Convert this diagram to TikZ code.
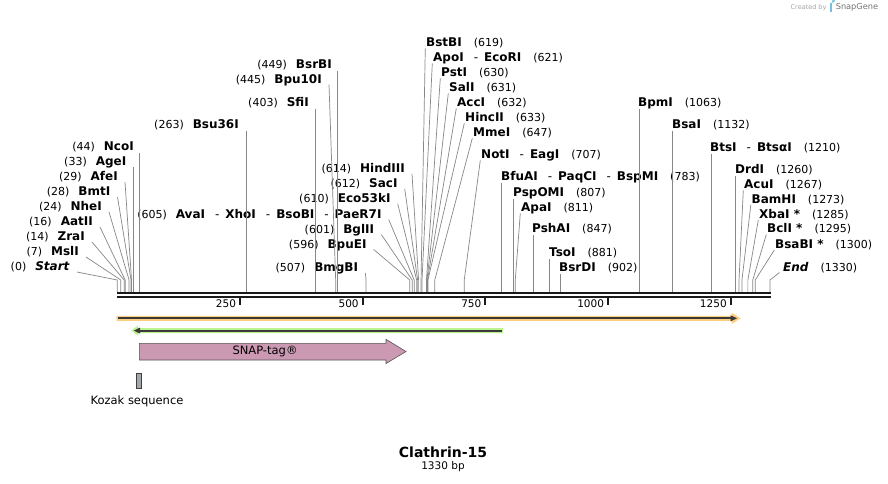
\documentclass[tikz,border=0pt]{standalone}
\usepackage{fontspec}
\setmainfont{DejaVu Sans}
\definecolor{sitegray}{RGB}{135,135,135}
\definecolor{bbcol}{RGB}{26,26,26}
\definecolor{orfcol}{RGB}{253,206,125}
\definecolor{grncol}{RGB}{188,243,142}
\definecolor{darkln}{RGB}{58,58,58}
\definecolor{snapcol}{RGB}{204,153,179}
\definecolor{snapedge}{RGB}{85,85,85}
\definecolor{kozcol}{RGB}{164,168,172}
\definecolor{logoblue}{RGB}{120,190,225}
\newcommand\sitename[1]{{\fontsize{12}{13}\selectfont\bfseries #1}}
\newcommand\dashsep{\hspace{10pt}{\mdseries -}\hspace{6pt}}
\newcommand\siteL[5]{%
  \node[lab,anchor=base east] (#1) at (#3,#4+4) {(#2)\hspace{9pt}\sitename{#5}};
  \coordinate (#1s) at ({117.3+0.4907*#2},291.8);
  \coordinate (#1b) at ({117.3+0.4907*#2},280);
}
\newcommand\siteR[5]{%
  \node[lab,anchor=base west] (#1) at (#3,#4+4) {\sitename{#5}\hspace{12pt}(#2)};
  \coordinate (#1s) at ({117.3+0.4907*#2},291.8);
  \coordinate (#1b) at ({117.3+0.4907*#2},280);
}
\newcommand\diagL[1]{\draw[siteline] ([shift={(7,1.5)}]#1.base east) -- (#1b) -- (#1s);}
\newcommand\diagR[1]{\draw[siteline] ([shift={(-0.7,2)}]#1.base west) -- (#1b) -- (#1s);}
\newcommand\vertS[1]{\draw[siteline] (#1s |- #1.south) -- (#1s);}
\begin{document}
\begin{tikzpicture}[x=1pt,y=-1pt,
  lab/.style={inner sep=0pt,text height=8.5pt,text depth=2.5pt,font=\fontsize{11}{13}\selectfont},
  siteline/.style={draw=sitegray,line width=0.7pt},
  ticklab/.style={inner sep=0pt,font=\fontsize{10.5}{12}\selectfont}]
\fill[white] (0,0) rectangle (888,483);
\useasboundingbox (0,0) rectangle (888,483);

% ---- left-side labels
\siteL{Start}{0}{70}{266.5}{\textit{Start}}
\siteL{MslI}{7}{79}{251.5}{MslI}
\siteL{ZraI}{14}{85}{236.5}{ZraI}
\siteL{AatII}{16}{93}{221.5}{AatII}
\siteL{NheI}{24}{102}{206.5}{NheI}
\siteL{BmtI}{28}{110.5}{191.5}{BmtI}
\siteL{AfeI}{29}{118}{176.5}{AfeI}
\siteL{AgeI}{33}{126.5}{161.5}{AgeI}
\siteL{NcoI}{44}{134}{146.5}{NcoI}
\siteL{BsuI}{263}{239}{124}{Bsu36I}
\siteL{SfiI}{403}{309}{102}{SfiI}
\siteL{BpuI}{445}{322}{79}{Bpu10I}
\siteL{BsrBI}{449}{332}{64}{BsrBI}
\siteL{HindIII}{614}{405}{168.3}{HindIII}
\siteL{SacI}{612}{397.7}{183.3}{SacI}
\siteL{EcoI}{610}{390.7}{198.3}{Eco53kI}
\siteL{AvaI}{605}{381.7}{214}{AvaI\dashsep XhoI\dashsep BsoBI\dashsep PaeR7I}
\siteL{BglII}{601}{374.3}{229}{BglII}
\siteL{BpuEI}{596}{366.7}{244}{BpuEI}
\siteL{BmgBI}{507}{358.3}{267.3}{BmgBI}

% ---- right-side labels
\siteR{BstBI}{619}{426}{42.3}{BstBI}
\siteR{ApoI}{621}{433}{57.3}{ApoI\dashsep EcoRI}
\siteR{PstI}{630}{441}{72.3}{PstI}
\siteR{SalI}{631}{449}{87.3}{SalI}
\siteR{AccI}{632}{457}{102.3}{AccI}
\siteR{HincII}{633}{465}{117.3}{HincII}
\siteR{MmeI}{647}{473}{132.3}{MmeI}
\siteR{NotI}{707}{481}{154.3}{NotI\dashsep EagI}
\siteR{BfuAI}{783}{501}{176.7}{BfuAI\dashsep PaqCI\dashsep BspMI}
\siteR{PspOMI}{807}{513}{192.3}{PspOMI}
\siteR{ApaI}{811}{521}{207.3}{ApaI}
\siteR{PshAI}{847}{532}{228.5}{PshAI}
\siteR{TsoI}{881}{549}{252.3}{TsoI}
\siteR{BsrDI}{902}{559}{267.3}{BsrDI}
\siteR{BpmI}{1063}{638}{102}{BpmI}
\siteR{BsaI}{1132}{672}{124}{BsaI}
\siteR{BtsI}{1210}{710}{147}{BtsI\dashsep BtsαI}
\siteR{DrdI}{1260}{735}{169}{DrdI}
\siteR{AcuI}{1267}{744}{184.3}{AcuI}
\siteR{BamHI}{1273}{751.5}{199}{BamHI}
\siteR{XbaI}{1285}{759}{214}{XbaI *}
\siteR{BclI}{1295}{767}{228.5}{BclI *}
\siteR{BsaBI}{1300}{775}{244}{BsaBI *}
\siteR{End}{1330}{783}{267}{\textit{End}}

% ---- connectors
\diagL{Start}\diagL{MslI}\diagL{ZraI}\diagL{AatII}\diagL{NheI}\diagL{BmtI}\diagL{AfeI}\diagL{AgeI}
\vertS{NcoI}\vertS{BsuI}\vertS{SfiI}\vertS{BsrBI}
\diagL{BpuI}\diagL{HindIII}\diagL{SacI}\diagL{EcoI}\diagL{AvaI}\diagL{BglII}\diagL{BpuEI}\diagL{BmgBI}
\diagR{BstBI}\diagR{ApoI}\diagR{PstI}\diagR{SalI}\diagR{AccI}\diagR{HincII}\diagR{MmeI}\diagR{NotI}\diagR{ApaI}
\diagR{AcuI}\diagR{BamHI}\diagR{XbaI}\diagR{BclI}\diagR{BsaBI}
\vertS{BfuAI}\vertS{PspOMI}\vertS{PshAI}\vertS{TsoI}\vertS{BsrDI}\vertS{BpmI}\vertS{BsaI}\vertS{BtsI}\vertS{DrdI}
\draw[siteline] ([shift={(-3.5,1.5)}]End.base west) -- (Endb) -- (Ends);

% ---- backbone
\draw[bbcol,line width=1.8pt] (117,293.2) -- (770.8,293.2);
\draw[bbcol,line width=1.8pt] (117,296.8) -- (770.8,296.8);
\foreach \p in {250,500,750,1000,1250}{
  \draw[bbcol,line width=2pt] ({117.3+0.4907*\p},296.8) -- ++(0,8.2);
  \node[ticklab,anchor=east] (t\p) at ({117.3+0.4907*\p-3.8},303.8) {\p};
}

% ---- features
\fill[orfcol] (116.7,315.8) -- (731.5,315.8) -- (731.5,312.6) -- (740.5,318.3) -- (731.5,324) -- (731.5,320.8) -- (116.7,320.8) -- cycle;
\draw[darkln,line width=1.8pt] (118.3,318.3) -- (732,318.3);
\fill[darkln] (730.5,315.2) -- (737,318.3) -- (730.5,321.4) -- cycle;

\fill[grncol] (503,328) -- (138,328) -- (138,325.4) -- (131.3,330.6) -- (138,335.8) -- (138,333.2) -- (503,333.2) -- cycle;
\draw[darkln,line width=1.8pt] (136,330.6) -- (501.5,330.6);
\fill[darkln] (140,327.6) -- (133.8,330.6) -- (140,333.6) -- cycle;

\draw[snapedge,fill=snapcol,line width=0.6pt] (139.3,343.3) -- (386,343.3) -- (386,339.3) -- (406,351.5) -- (386,363.5) -- (386,360) -- (139.3,360) -- cycle;
\node[font=\fontsize{11.5}{13}\selectfont,inner sep=0pt] (snap) at (265,351.5) {SNAP-tag®};

\draw[black!75,fill=kozcol,line width=0.6pt] (136.3,372.8) rectangle (141.7,388.2);
\node[font=\fontsize{11.5}{13}\selectfont,inner sep=0pt] (kozak) at (137,401.7) {Kozak sequence};

% ---- title
\node[font=\fontsize{14}{16}\selectfont\bfseries,inner sep=0pt] (title) at (443,452.3) {Clathrin-15};
\node[font=\fontsize{10.5}{12}\selectfont,inner sep=0pt] (len) at (443,466.7) {1330 bp};

% ---- credit
\node[font=\fontsize{6.5}{8}\selectfont,text=black!35,anchor=west,inner sep=0pt] (cby) at (790.5,7.5) {Created by};
\fill[logoblue] (829.6,2.6) rectangle (831.6,12.4);
\fill[logoblue] (831.6,2.6) -- (832.6,2.6) arc (90:-90:2.3) -- (831.6,7.2) -- cycle;
\node[font=\fontsize{8.2}{9}\selectfont,text=black!55,anchor=west,inner sep=0pt] (sg) at (835.6,7.5) {SnapGene};
\end{tikzpicture}
\end{document}
